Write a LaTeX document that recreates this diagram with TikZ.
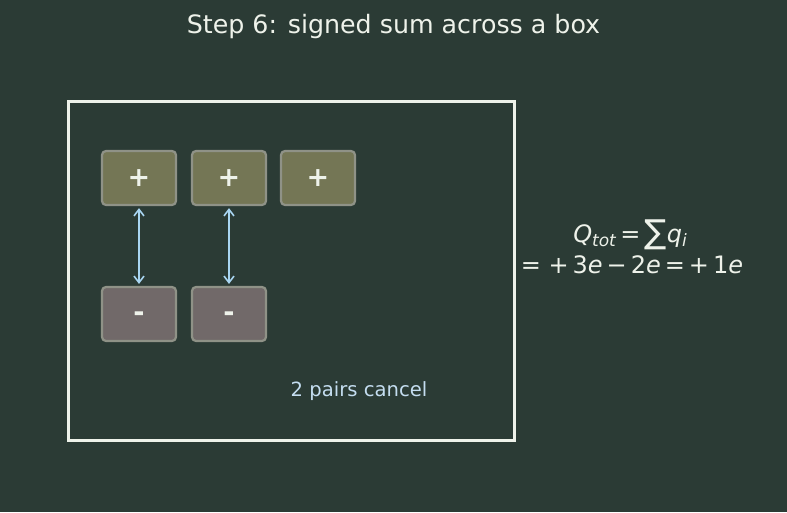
\documentclass[tikz,border=0pt]{standalone}
\usepackage{fontspec}
\setmainfont{DejaVu Sans}
\usetikzlibrary{arrows.meta}
\definecolor{bg}{HTML}{2B3B35}
\definecolor{fg}{HTML}{EEF2EA}
\definecolor{plusfill}{HTML}{747655}
\definecolor{minusfill}{HTML}{716969}
\definecolor{cellline}{HTML}{8F9287}
\definecolor{arrowc}{HTML}{A9D6F2}
\definecolor{notec}{HTML}{C4DDF0}
\tikzset{
  cell/.style={draw=cellline, line width=2.2pt, rounded corners=4pt, minimum width=74pt, minimum height=54pt, inner sep=0pt, text=fg, font=\fontsize{27}{30}\selectfont\bfseries},
  pluscell/.style={cell, fill=plusfill},
  minuscell/.style={cell, fill=minusfill},
  pairarrow/.style={arrowc, line width=1.6pt, {Straight Barb[length=6.5pt,width=10pt]}-{Straight Barb[length=6.5pt,width=10pt]}},
}
\begin{document}
\begin{tikzpicture}[x=1pt,y=-1pt]
\fill[bg] (0,0) rectangle (787,512);
\useasboundingbox (0,0) rectangle (787,512);
\node[text=fg, font=\fontsize{25.3}{30}\selectfont] (title) at (393.5,27) {Step 6: signed sum across a box};
\draw[fg, line width=3pt] (68,101.5) rectangle (514,440);
\node[pluscell] (p1) at (139,178) {+};
\node[pluscell] (p2) at (229,178) {+};
\node[pluscell] (p3) at (318,178) {+};
\node[minuscell] (m1) at (139,314) {\raisebox{-0.27em}[0pt][0pt]{-}};
\node[minuscell] (m2) at (229,314) {\raisebox{-0.27em}[0pt][0pt]{-}};
\draw[pairarrow] ([yshift=-2pt]p1.south) -- ([yshift=2pt]m1.north);
\draw[pairarrow] ([yshift=-2pt]p2.south) -- ([yshift=2pt]m2.north);
\node[text=notec, font=\fontsize{19.6}{23}\selectfont] (note) at (359,391) {2 pairs cancel};
\node[text=fg, font=\fontsize{24}{28}\selectfont] (eq1) at (630,235) {\textit{Q}\raisebox{-0.3ex}{\fontsize{17}{19}\selectfont\textit{tot}}\,=\,\raisebox{-0.1ex}{\fontsize{33}{36}\selectfont ∑}\textit{q}\raisebox{-0.3ex}{\fontsize{17}{19}\selectfont\textit{i}}};
\node[text=fg, font=\fontsize{24}{28}\selectfont] (eq2) at (632,265) {= +\,3\textit{e}\,−\,2\textit{e}\,=\,+\,1\textit{e}};
\end{tikzpicture}
\end{document}
